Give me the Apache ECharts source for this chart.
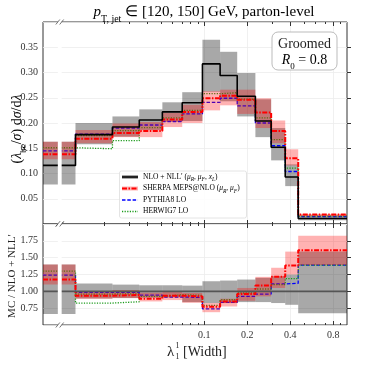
<!DOCTYPE html>
<html><head><meta charset="utf-8">
<script src="https://cdn.jsdelivr.net/npm/echarts@6/dist/echarts.min.js"></script>
<style>html,body{margin:0;padding:0;background:#fff}#c{width:366px;height:366px}</style>
</head><body><div id="c"></div>
<script>
// ---- data ----
const binEdges = [0.0074, 0.0125, 0.0227, 0.035, 0.0508, 0.070, 0.097, 0.129, 0.170, 0.228, 0.294, 0.369, 0.455, 1.0];
const nlo      = [0.116, 0.177, 0.192, 0.206, 0.222, 0.240, 0.317, 0.294, 0.253, 0.204, 0.152, 0.093, 0.011];
const nloLo    = [0.078, 0.158, 0.173, 0.186, 0.202, 0.204, 0.262, 0.243, 0.213, 0.172, 0.126, 0.075, 0.0075];
const nloHi    = [0.163, 0.200, 0.213, 0.227, 0.241, 0.261, 0.365, 0.341, 0.299, 0.247, 0.190, 0.118, 0.0175];
const sherpa   = [0.138, 0.169, 0.180, 0.184, 0.207, 0.222, 0.249, 0.254, 0.246, 0.221, 0.184, 0.130, 0.019];
const sherpaLo = [0.128, 0.160, 0.172, 0.172, 0.192, 0.200, 0.225, 0.235, 0.218, 0.190, 0.160, 0.116, 0.0155];
const sherpaHi = [0.163, 0.186, 0.199, 0.202, 0.220, 0.236, 0.263, 0.266, 0.266, 0.249, 0.205, 0.148, 0.020];
const pythia   = [0.145, 0.178, 0.190, 0.196, 0.203, 0.218, 0.241, 0.249, 0.234, 0.200, 0.155, 0.104, 0.0145];
const herwig   = [0.151, 0.149, 0.165, 0.191, 0.210, 0.225, 0.258, 0.260, 0.247, 0.210, 0.167, 0.1105, 0.0155];
const extraBins = [1, 2];
const extraDot = [0.175, 0.185];

const rNlo      = [1, 1, 1, 1, 1, 1, 1, 1, 1, 1, 1, 1, 1];
const rNloLo    = [0.665, 0.895, 0.90, 0.905, 0.91, 0.84, 0.825, 0.826, 0.84, 0.84, 0.826, 0.80, 0.675];
const rNloHi    = [1.40, 1.115, 1.10, 1.09, 1.09, 1.085, 1.15, 1.16, 1.175, 1.20, 1.225, 1.25, 1.59];
const rSherpa   = [1.175, 0.935, 0.945, 0.89, 0.935, 0.925, 0.77, 0.85, 0.96, 1.085, 1.215, 1.385, 1.61];
const rSherpaLo = [1.10, 0.89, 0.90, 0.85, 0.87, 0.83, 0.69, 0.775, 0.86, 0.925, 1.05, 1.25, 1.39];
const rSherpaHi = [1.40, 1.00, 1.02, 0.98, 0.99, 0.975, 0.825, 0.89, 1.05, 1.215, 1.35, 1.59, 1.825];
const rPythia   = [1.24, 0.985, 0.985, 0.945, 0.915, 0.91, 0.74, 0.835, 0.925, 0.96, 1.11, 1.12, 1.39];
const rHerwig   = [1.30, 0.826, 0.845, 0.925, 0.95, 0.94, 0.79, 0.875, 0.975, 1.035, 1.10, 1.19, 1.39];
const rExtraDot = [0.96, 0.963];

const xMajorTicks = [0.1, 0.2, 0.4, 0.8];
const xMinorTicks = [0.02, 0.03, 0.04, 0.05, 0.06, 0.07, 0.08, 0.09, 0.3, 0.5, 0.6, 0.7, 0.9];
const breakLo = 0.0094, breakHi = 0.0100;

// ---- helpers ----
const L = v => Math.log2(v);
const n = nlo.length;
const xMin = L(binEdges[0]), xMax = L(binEdges[n]);
function stepData(vals){
  const d = vals.map((v,i)=>[L(binEdges[i]), v]);
  d.push([L(binEdges[n]), vals[n-1]]);
  return d;
}
function partStep(bins, vals){
  const d = bins.map((b,i)=>[L(binEdges[b]), vals[i]]);
  d.push([L(binEdges[bins[bins.length-1]+1]), vals[vals.length-1]]);
  return d;
}
function bandData(lo, hi){ return lo.map((l,i)=>[L(binEdges[i]), L(binEdges[i+1]), l, hi[i]]); }
function bandRender(color){
  return function(params, api){
    const p0 = api.coord([api.value(0), api.value(3)]);
    const p1 = api.coord([api.value(1), api.value(2)]);
    return {type:'rect', shape:{x:p0[0], y:p0[1], width:p1[0]-p0[0], height:p1[1]-p0[1]}, style:{fill:color}};
  };
}
const SERIF = 'Liberation Serif';
const GRAY = 'rgba(0,0,0,0.34)', PINK = 'rgba(255,0,0,0.30)';

function xAxesFor(grid, withLabels){
  const base = {type:'value', gridIndex:grid, min:xMin, max:xMax, axisLine:{show:false}};
  const fmt = v => String(Math.round(Math.pow(2, v)*10)/10);
  const maj = xMajorTicks.map(L), mino = xMinorTicks.map(L);
  return [
    Object.assign({}, base, {position:'bottom',
      axisTick:{show:true, inside:true, length:4, customValues:maj, lineStyle:{color:'#333'}},
      axisLabel:{show:withLabels, customValues:maj, formatter:fmt, fontFamily:SERIF, fontSize:10, color:'#333', margin:5},
      splitLine:{show:true, lineStyle:{color:'#ececec', width:0.8}}}),
    Object.assign({}, base, {position:'bottom',
      axisTick:{show:true, inside:true, length:2, customValues:mino, lineStyle:{color:'#333'}},
      axisLabel:{show:false}, splitLine:{show:false}}),
    Object.assign({}, base, {position:'top',
      axisTick:{show:true, inside:true, length:4, customValues:maj, lineStyle:{color:'#333'}},
      axisLabel:{show:false}, splitLine:{show:false}}),
    Object.assign({}, base, {position:'top',
      axisTick:{show:true, inside:true, length:2, customValues:mino, lineStyle:{color:'#333'}},
      axisLabel:{show:false}, splitLine:{show:false}})
  ];
}

function lineS(name, data, xi, yi, color, width, type, z){
  return {type:'line', name, data, xAxisIndex:xi, yAxisIndex:yi, step:'end', symbol:'none', showSymbol:false,
    lineStyle:{color, width, type, cap:'butt'}, z, animation:false, silent:true};
}
function bandS(data, xi, yi, color, z){
  return {type:'custom', data, xAxisIndex:xi, yAxisIndex:yi, renderItem:bandRender(color),
    encode:{x:[0,1], y:[2,3]}, z, animation:false, silent:true};
}
function breakS(xi, yi, yLo, yHi){
  return {type:'custom', data:[[L(breakLo), yLo]], xAxisIndex:xi, yAxisIndex:yi, clip:false, z:20, animation:false, silent:true,
    encode:{x:0, y:1},
    renderItem:function(params, api){
      const a = api.coord([L(breakLo), yHi]);
      const b = api.coord([L(breakHi), yLo]);
      const kids = [{type:'rect', shape:{x:a[0], y:a[1]-2, width:b[0]-a[0], height:b[1]-a[1]+4}, style:{fill:'#fff'}}];
      [a[1], b[1]].forEach(yy=>{
        [a[0], b[0]].forEach(xx=>{
          kids.push({type:'line', shape:{x1:xx-2, y1:yy+2.5, x2:xx+2, y2:yy-2.5}, style:{stroke:'#555', lineWidth:0.8}});
        });
      });
      return {type:'group', children:kids};
    }};
}

const RED_DASH = [5,1.5,1.5,1.5], BLUE_DASH = [3.5,1.8], GREEN_DOT = [1.2,1.4];

const series = [
  // top panel
  bandS(bandData(nloLo, nloHi), 0, 0, GRAY, 1),
  lineS('PYTHIA8 LO', stepData(pythia), 0, 0, '#0000ff', 1.3, BLUE_DASH, 2),
  lineS('HERWIG7 LO', stepData(herwig), 0, 0, '#1a9a1a', 1.3, GREEN_DOT, 2),
  lineS('extra', partStep(extraBins, extraDot), 0, 0, '#1a9a1a', 1.3, GREEN_DOT, 2),
  bandS(bandData(sherpaLo, sherpaHi), 0, 0, PINK, 3),
  lineS('SHERPA', stepData(sherpa), 0, 0, '#ff0000', 2, RED_DASH, 4),
  lineS('NLO', stepData(nlo), 0, 0, '#000', 1.6, 'solid', 5),
  breakS(0, 0, 0, 0.40),
  // ratio panel
  bandS(bandData(rNloLo, rNloHi), 4, 1, GRAY, 1),
  lineS('rPythia', stepData(rPythia), 4, 1, '#0000ff', 1.3, BLUE_DASH, 2),
  lineS('rHerwig', stepData(rHerwig), 4, 1, '#1a9a1a', 1.3, GREEN_DOT, 2),
  lineS('rExtra', partStep(extraBins, rExtraDot), 4, 1, '#1a9a1a', 1.3, GREEN_DOT, 2),
  bandS(bandData(rSherpaLo, rSherpaHi), 4, 1, PINK, 3),
  lineS('rSherpa', stepData(rSherpa), 4, 1, '#ff0000', 2, RED_DASH, 4),
  lineS('rNlo', stepData(rNlo), 4, 1, '#555', 1.6, 'solid', 5),
  breakS(4, 1, 0.5, 2.0)
];

const yLabel = {fontFamily:SERIF, fontSize:10, color:'#333', margin:5};
const chart = echarts.init(document.getElementById('c'), null, {renderer:'canvas'});

const subStyle = (fs)=>({fontFamily:SERIF, fontSize:fs, color:'#222', verticalAlign:'bottom', lineHeight:fs*2.2});
function richStyles(fs, sfs){
  return {
    n:{fontFamily:SERIF, fontSize:fs, color:'#222', lineHeight:fs*1.6, verticalAlign:'middle'},
    i:{fontFamily:SERIF, fontStyle:'italic', fontSize:fs, color:'#222', lineHeight:fs*1.6, verticalAlign:'middle'},
    s:{fontFamily:SERIF, fontSize:sfs, color:'#222', lineHeight:fs*1.6, verticalAlign:'bottom', padding:[0,0,0,0]},
    si:{fontFamily:SERIF, fontStyle:'italic', fontSize:sfs, color:'#222', lineHeight:fs*1.6, verticalAlign:'bottom'}
  };
}

const LEG_X = 122, LEG_Y0 = 177, LEG_DY = 11.5;
const legendG = [
  {type:'rect', shape:{x:119.5, y:171, width:127, height:47, r:2}, style:{fill:'rgba(255,255,255,0.85)', stroke:'#ddd', lineWidth:0.8}, z:30},
  // NLO
  {type:'line', shape:{x1:LEG_X, y1:LEG_Y0, x2:LEG_X+16, y2:LEG_Y0}, style:{stroke:GRAY, lineWidth:4}, z:31},
  {type:'line', shape:{x1:LEG_X, y1:LEG_Y0, x2:LEG_X+16, y2:LEG_Y0}, style:{stroke:'#000', lineWidth:1.6}, z:32},
  {type:'text', x:LEG_X+21, y:LEG_Y0, z:32, style:{text:'{n|NLO + NLL′ (}{i|μ}{si|R}{n|, }{i|μ}{si|F}{n|, }{i|x}{si|L}{n|)}', rich:richStyles(7.5,5.5), verticalAlign:'middle'}},
  // SHERPA
  {type:'line', shape:{x1:LEG_X, y1:LEG_Y0+LEG_DY, x2:LEG_X+16, y2:LEG_Y0+LEG_DY}, style:{stroke:PINK, lineWidth:4}, z:31},
  {type:'line', shape:{x1:LEG_X, y1:LEG_Y0+LEG_DY, x2:LEG_X+16, y2:LEG_Y0+LEG_DY}, style:{stroke:'#ff0000', lineWidth:2, lineDash:RED_DASH}, z:32},
  {type:'text', x:LEG_X+21, y:LEG_Y0+LEG_DY, z:32, style:{text:'{n|SHERPA MEPS@NLO (}{i|μ}{si|R}{n|, }{i|μ}{si|F}{n|)}', rich:richStyles(7.5,5.5), verticalAlign:'middle'}},
  // PYTHIA
  {type:'line', shape:{x1:LEG_X, y1:LEG_Y0+2*LEG_DY, x2:LEG_X+16, y2:LEG_Y0+2*LEG_DY}, style:{stroke:'#0000ff', lineWidth:1.3, lineDash:BLUE_DASH}, z:32},
  {type:'text', x:LEG_X+21, y:LEG_Y0+2*LEG_DY, z:32, style:{text:'{n|PYTHIA8 LO}', rich:richStyles(7.5,5.5), verticalAlign:'middle'}},
  // HERWIG
  {type:'line', shape:{x1:LEG_X, y1:LEG_Y0+3*LEG_DY, x2:LEG_X+16, y2:LEG_Y0+3*LEG_DY}, style:{stroke:'#1a9a1a', lineWidth:1.3, lineDash:GREEN_DOT}, z:32},
  {type:'text', x:LEG_X+21, y:LEG_Y0+3*LEG_DY, z:32, style:{text:'{n|HERWIG7 LO}', rich:richStyles(7.5,5.5), verticalAlign:'middle'}}
];

const graphics = legendG.concat([
  // title
  {type:'text', x:204, y:12, z:40, style:{text:'{i|p}{s|T, jet}{n| ∈ [120, 150] GeV, parton-level}', rich:richStyles(15,10), align:'center', verticalAlign:'middle'}},
  // groomed box
  {type:'rect', shape:{x:272, y:32, width:65, height:38, r:6}, style:{fill:'#fff', stroke:'#aaa', lineWidth:0.8}, z:30},
  {type:'text', x:304.5, y:44, z:31, style:{text:'Groomed', fontFamily:SERIF, fontSize:14, fill:'#222', align:'center', verticalAlign:'middle'}},
  {type:'text', x:304.5, y:60, z:31, style:{text:'{i|R}{s|0}{n| = 0.8}', rich:richStyles(14,9), align:'center', verticalAlign:'middle'}},
  // y titles
  {type:'text', x:17, y:129, rotation:Math.PI/2, z:31, style:{text:'{n|(}{i|λ}{s|bc}{n|/}{i|σ}{n|) d}{i|σ}{n|/d}{i|λ}', rich:richStyles(14,9), align:'center', verticalAlign:'middle'}},
  {type:'text', x:12, y:276, rotation:Math.PI/2, z:31, style:{text:'MC / NLO + NLL′', fontFamily:SERIF, fontSize:11, fill:'#222', align:'center', verticalAlign:'middle'}},
  // x title
  {type:'text', x:167, y:352, z:31, style:{text:'λ', fontFamily:SERIF, fontSize:15, fill:'#222', align:'left', verticalAlign:'middle'}},
  {type:'text', x:175.5, y:346, z:31, style:{text:'1', fontFamily:SERIF, fontSize:8, fill:'#222', align:'left', verticalAlign:'middle'}},
  {type:'text', x:175.5, y:357, z:31, style:{text:'1', fontFamily:SERIF, fontSize:8, fill:'#222', align:'left', verticalAlign:'middle'}},
  {type:'text', x:183, y:352, z:31, style:{text:'[Width]', fontFamily:SERIF, fontSize:14, fill:'#222', align:'left', verticalAlign:'middle'}}
]);

chart.setOption({
  animation:false,
  backgroundColor:'#fff',
  grid:[
    {left:43, right:19, top:22, height:202, show:true, borderColor:'#333', borderWidth:1, backgroundColor:'transparent'},
    {left:43, right:19, top:224, height:101, show:true, borderColor:'#333', borderWidth:1, backgroundColor:'transparent'}
  ],
  xAxis: xAxesFor(0, false).concat(xAxesFor(1, true)),
  yAxis:[
    {type:'value', gridIndex:0, min:0, max:0.40, interval:0.05, axisLine:{show:false},
      axisTick:{show:true, inside:true, length:4, lineStyle:{color:'#333'}},
      axisLabel:Object.assign({}, yLabel, {showMinLabel:false, showMaxLabel:false, formatter:v=>v.toFixed(2)}),
      splitLine:{show:true, lineStyle:{color:'#ececec', width:0.8}}},
    {type:'value', gridIndex:1, min:0.5, max:2.0, interval:0.25, axisLine:{show:false},
      axisTick:{show:true, inside:true, length:4, lineStyle:{color:'#333'}},
      axisLabel:Object.assign({}, yLabel, {showMinLabel:false, showMaxLabel:false, formatter:v=>v.toFixed(2)}),
      splitLine:{show:true, lineStyle:{color:'#ececec', width:0.8}}}
  ],
  series,
  graphic: graphics
});
</script>
</body></html>
